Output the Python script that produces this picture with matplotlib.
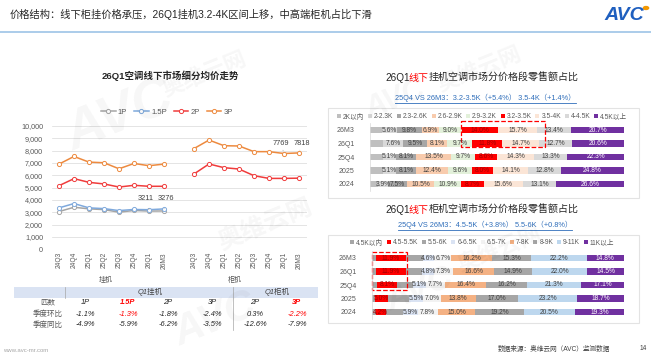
import matplotlib.pyplot as plt
from matplotlib.patches import Rectangle
from matplotlib.lines import Line2D
import numpy as np

plt.rcParams['font.family'] = ['Liberation Sans', 'Noto Sans CJK SC', 'DejaVu Sans']
plt.rcParams['axes.unicode_minus'] = False

# ---------------- data ----------------
quarters = ['24Q3', '24Q4', '25Q1', '25Q2', '25Q3', '25Q4', '26Q1', '26M3']
wall_1p = [3060, 3410, 3280, 3220, 3010, 3150, 3100, 3110]
wall_15p = [3360, 3710, 3360, 3300, 3140, 3230, 3211, 3276]
wall_2p = [5160, 5730, 5430, 5300, 5050, 5190, 5110, 5110]
wall_3p = [6910, 7530, 7070, 7020, 6530, 6960, 6780, 6910]
floor_2p = [6110, 6920, 6620, 6510, 5970, 5750, 5750, 5770]
floor_3p = [8170, 8860, 8400, 8380, 7920, 7920, 7769, 7818]

table_cols = ['1P', '1.5P', '2P', '3P', '2P', '3P']
qoq = ['-1.1%', '-1.3%', '-1.8%', '-2.4%', '0.3%', '-2.2%']
yoy = ['-4.9%', '-5.9%', '-6.2%', '-3.5%', '-12.6%', '-7.9%']

periods = ['26M3', '26Q1', '25Q4', '2025', '2024']

wall_bands = ['2K以内', '2-2.3K', '2.3-2.6K', '2.6-2.9K', '2.9-3.2K',
              '3.2-3.5K', '3.5-4K', '4-4.5K', '4.5K以上']
wall_26m3 = [4.9, 5.6, 9.8, 6.9, 9.0, 14.0, 15.7, 13.4, 20.7]
wall_26q1 = [5.3, 7.6, 9.5, 8.1, 9.7, 11.8, 14.7, 12.7, 20.6]
wall_25q4 = [5.1, 5.1, 8.1, 13.5, 9.7, 8.6, 14.3, 13.3, 22.3]
wall_2025 = [5.1, 5.1, 8.1, 12.4, 9.6, 8.0, 14.1, 12.8, 24.8]
wall_2024 = [3.2, 3.9, 7.5, 10.5, 10.9, 8.7, 15.6, 13.1, 26.6]

floor_bands = ['4.5K以内', '4.5-5.5K', '5.5-6K', '6-6.5K', '6.5-7K',
               '7-8K', '8-9K', '9-11K', '11K以上']
floor_26m3 = [1.4, 11.9, 6.9, 4.6, 6.7, 16.2, 15.3, 22.2, 14.8]
floor_26q1 = [1.4, 11.9, 6.6, 4.8, 7.3, 16.6, 14.9, 22.0, 14.5]
floor_25q4 = [2.0, 8.1, 6.1, 5.1, 7.7, 16.4, 16.2, 21.3, 17.1]
floor_2025 = [1.2, 5.0, 8.6, 5.5, 7.0, 13.8, 17.0, 23.2, 18.7]
floor_2024 = [1.4, 4.2, 6.7, 5.9, 7.8, 15.0, 19.2, 20.5, 19.3]

wall_colors = ['#bfbfbf', '#d9d9d9', '#a6a6a6', '#f8cbad', '#e2f0d9',
               '#ff0000', '#fbe5d6', '#d9d9d9', '#7030a0']
floor_colors = ['#a6a6a6', '#ff0000', '#a6a6a6', '#dae3f3', '#f2f2f2',
                '#f4b183', '#a6a6a6', '#bdd7ee', '#7030a0']

# ---------------- figure helpers ----------------
W, H = 651, 364
fig = plt.figure(figsize=(W / 100, H / 100), dpi=100)
renderer = fig.canvas.get_renderer()


def fx(x):
    return x / W


def fy(y):
    return 1 - y / H


def rect(x0, y0, x1, y1):
    return [x0 / W, 1 - y1 / H, (x1 - x0) / W, (y1 - y0) / H]


def hline(x0, x1, y, **kw):
    fig.add_artist(Line2D([fx(x0), fx(x1)], [fy(y), fy(y)], **kw))


def vline(x, y0, y1, **kw):
    fig.add_artist(Line2D([fx(x), fx(x)], [fy(y0), fy(y1)], **kw))


def runs(x, y, pieces, size):
    # text pieces of different colours on one baseline
    for s, c in pieces:
        t = fig.text(fx(x), fy(y), s, fontsize=size, color=c, va='baseline', ha='left')
        x += t.get_window_extent(renderer).width


# ---------------- header ----------------
fig.text(fx(10), fy(18), '价格结构：线下柜挂价格承压，26Q1挂机3.2-4K区间上移，中高端柜机占比下滑',
         fontsize=7.4, color='#262626', va='baseline')
hline(0, W, 32, color='#9dc3e6', lw=1.2)
fig.text(fx(644), fy(15), 'AVC', fontsize=14, fontweight='bold', style='italic',
         color='#1f5fbf', ha='right', va='center')
fig.add_artist(plt.Circle((fx(646), fy(8)), 0.004, color='#f39800', transform=fig.transFigure))

# ---------------- left: line chart ----------------
fig.text(fx(170), fy(76), '26Q1空调线下市场细分均价走势', fontsize=6.8, fontweight='bold',
         color='#262626', ha='center', va='center')

ax = fig.add_axes(rect(51.5, 126, 306.5, 249.3))
ax.set_facecolor('none')
xw = np.arange(8)
xf = np.arange(9, 17)
mk = dict(marker='o', ms=3, mfc='white', mew=0.7, lw=1.1)
c1, c15, c2, c3 = '#a5a5a5', '#7fa9dc', '#f03c3c', '#ed8a3f'
ax.plot(xw, wall_1p, color=c1, **mk)
ax.plot(xw, wall_15p, color=c15, **mk)
ax.plot(xw, wall_2p, color=c2, **mk)
ax.plot(xf, floor_2p, color=c2, **mk)
ax.plot(xw, wall_3p, color=c3, **mk)
ax.plot(xf, floor_3p, color=c3, **mk)
ax.set_xlim(-0.5, 16.5)
ax.set_ylim(0, 10000)
yt = list(range(0, 10001, 1000))
ax.set_yticks(yt)
ax.set_yticklabels([f'{v:,}' for v in yt], fontsize=5.2, color='#595959')
ax.set_xticks(list(xw) + list(xf))
ax.set_xticklabels(quarters * 2, rotation=90, fontsize=4.8, color='#595959')
ax.tick_params(length=0)
ax.tick_params(axis='y', pad=6)
ax.tick_params(axis='x', pad=2)
ax.grid(axis='y', color='#d9d9d9', lw=0.5)
ax.set_axisbelow(True)
for s in ax.spines.values():
    s.set_visible(False)

# data labels sit on a common level above the last two points
for xi, v, dx, ty in [(6, wall_15p[6], -0.25, 4150), (7, wall_15p[7], 0.15, 4150),
                      (15, floor_3p[6], -0.2, 8550), (16, floor_3p[7], 0.2, 8550)]:
    ax.annotate(f'{v}', xy=(xi, v), xytext=(xi + dx, ty), textcoords='data',
                ha='center', va='center', fontsize=5.3, color='#404040',
                arrowprops=dict(arrowstyle='-', color='#a5a5a5', lw=0.5, shrinkA=3, shrinkB=2))

handles = [Line2D([], [], color=c, marker='o', ms=3, mfc='white', mew=0.7, lw=1.1)
           for c in (c1, c15, c2, c3)]
ax.legend(handles, ['1P', '1.5P', '2P', '3P'], loc='center',
          bbox_to_anchor=(fx(167), fy(112)), bbox_transform=fig.transFigure,
          ncol=4, frameon=False, fontsize=5.5, handlelength=1.9, handletextpad=0.3,
          columnspacing=0.9, labelcolor='#595959')

fig.text(fx(106), fy(280), '挂机', fontsize=5, color='#595959', ha='center', va='center')
fig.text(fx(235), fy(280), '柜机', fontsize=5, color='#595959', ha='center', va='center')

# ---------------- left: table ----------------
fig.add_artist(Rectangle((fx(14), fy(298)), fx(318) - fx(14), fy(287) - fy(298),
                         transform=fig.transFigure, color='#dae3f3', lw=0, zorder=0))
vline(65, 287, 298, color='#a6a6a6', lw=0.5)
vline(233, 287, 330, color='#a6a6a6', lw=0.5)
tk = dict(fontsize=5.4, style='italic', ha='center', va='center')
fig.text(fx(150), fy(292.5), 'Q1挂机', color='#404040', **tk)
fig.text(fx(277), fy(292.5), 'Q1柜机', color='#404040', **tk)
col_x = [85, 128, 168, 212, 255, 297]
red_cols = {1, 5}
for rx, (name, vals) in zip([303, 314, 325], [('匹数', table_cols), ('季度环比', qoq), ('季度同比', yoy)]):
    fig.text(fx(48), fy(rx), name, color='#595959', **tk)
    for j, (cx, v) in enumerate(zip(col_x, vals)):
        red = j in red_cols and name != '季度同比'
        fig.text(fx(cx), fy(rx), v, color='#ff0000' if red else '#262626',
                 fontweight='bold' if (red and name == '匹数') else 'normal', **tk)

# ---------------- right: stacked bars ----------------
def stacked(box, rows, bands, colors, skip, legend_y):
    a = fig.add_axes(box)
    a.set_facecolor('none')
    y = np.arange(len(rows))
    data = np.array(rows)
    left = np.zeros(len(rows))
    for j, band in enumerate(bands):
        vals = data[:, j]
        a.barh(y, vals, left=left, height=0.5, color=colors[j], label=band, lw=0)
        if j not in skip:
            tc = '#ffffff' if colors[j] == '#7030a0' else ('#a00000' if colors[j] == '#ff0000' else '#404040')
            for yi, (l, v) in enumerate(zip(left, vals)):
                a.text(l + v / 2, yi, f'{v:.1f}%', ha='center', va='center', fontsize=4.8, color=tc)
        left = left + vals
    a.set_xlim(0, 100)
    a.set_ylim(len(rows) - 0.5, -0.5)
    a.set_yticks(y)
    a.set_yticklabels(periods, fontsize=5, color='#595959')
    a.set_xticks([])
    a.tick_params(length=0, pad=11)
    for k, s in a.spines.items():
        s.set_visible(k == 'left')
    a.spines['left'].set_color('#d9d9d9')
    a.spines['left'].set_linewidth(0.5)
    a.legend(loc='center', bbox_to_anchor=(fx(482), fy(legend_y)), bbox_transform=fig.transFigure,
             ncol=9, fontsize=4.8, handlelength=0.6, handleheight=0.6, handletextpad=0.3,
             columnspacing=0.55, frameon=False, labelcolor='#595959')
    return a


for x0, y0, x1, y1 in [(328, 108, 639, 198), (328, 235, 639, 323)]:
    fig.add_artist(Rectangle((fx(x0), fy(y1)), fx(x1) - fx(x0), fy(y0) - fy(y1),
                             transform=fig.transFigure, fill=False, ec='#e3e3e3', lw=0.8))

runs(385, 81, [('26Q1', '#262626')], 7.2)
runs(409, 81, [('线下', '#ff0000'), ('挂机空调市场分价格段零售额占比', '#262626')], 7.2)
runs(385, 213, [('26Q1', '#262626')], 7.2)
runs(409, 213, [('线下', '#ff0000'), ('柜机空调市场分价格段零售额占比', '#262626')], 7.2)

sub1 = fig.text(fx(395), fy(100), '25Q4 VS 26M3：3.2-3.5K（+5.4%） 3.5-4K（+1.4%）',
                fontsize=5.3, color='#2f6eba', va='baseline')
sub2 = fig.text(fx(398), fy(227), '25Q4 VS 26M3：4.5-5K（+3.8%） 5.5-6K（+0.8%）',
                fontsize=5.3, color='#2f6eba', va='baseline')

ax_w = stacked(rect(370, 123.25, 624, 190.75),
               [wall_26m3, wall_26q1, wall_25q4, wall_2025, wall_2024],
               wall_bands, wall_colors, {0}, 117)
ax_f = stacked(rect(372, 251.25, 624, 318.75),
               [floor_26m3, floor_26q1, floor_25q4, floor_2025, floor_2024],
               floor_bands, floor_colors, {0, 2}, 243)

ax_w.add_patch(Rectangle((36.0, -0.67), 33.0, 1.93, fill=False, ec='#ff0000', ls='--',
                         lw=0.9, clip_on=False))
ax_f.add_patch(Rectangle((0.0, -0.45), 13.9, 2.8, fill=False, ec='#ff0000', ls='--',
                         lw=0.9, clip_on=False))

# ---------------- footer ----------------
fig.text(fx(3), fy(350), 'www.avc-mr.com', fontsize=4.3, color='#a6a6a6', va='center')
fig.text(fx(498), fy(349), '数据来源：奥维云网（AVC）监测数据', fontsize=4.8, color='#404040', va='center')
fig.text(fx(640), fy(349), '14', fontsize=4.8, color='#404040', va='center')

# ---------------- watermarks ----------------
wm = dict(color='#000000', alpha=0.035, rotation=22, ha='center', va='center', zorder=50)
for (x, y), s in [((120, 118), 72), ((395, 100), 40), ((215, 320), 55), ((420, 290), 45)]:
    fig.text(fx(x), fy(y), 'AVC', fontsize=s * 0.55, fontweight='bold', style='italic', **wm)
for (x, y), s in [((205, 75), 16), ((265, 225), 18), ((480, 70), 16), ((500, 250), 16)]:
    fig.text(fx(x), fy(y), '奥维云网', fontsize=s, fontweight='bold', **wm)

# underline the blue subtitles
for t in (sub1, sub2):
    bb = t.get_window_extent(renderer)
    fig.add_artist(Line2D([bb.x0 / W, bb.x1 / W], [(bb.y0 - 1) / H] * 2, color='#2f6eba', lw=0.6))

fig.savefig('out.png', dpi=100)
